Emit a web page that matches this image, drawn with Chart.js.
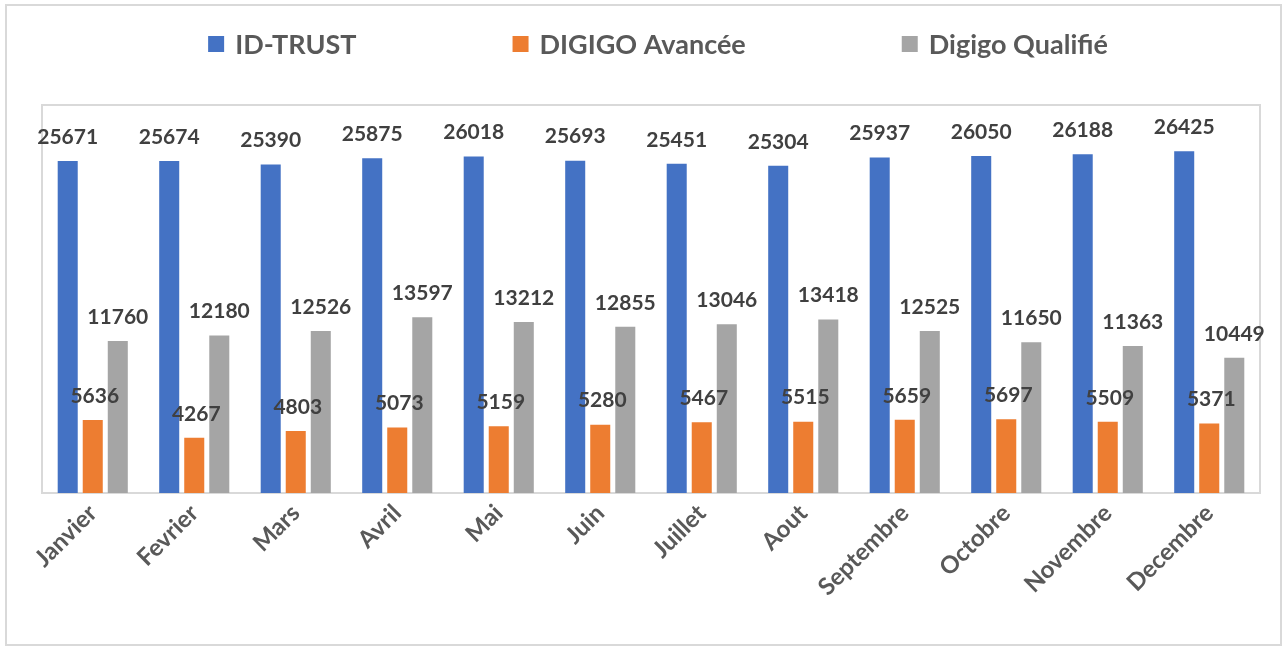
<!DOCTYPE html>
<html>
<head>
<meta charset="utf-8">
<script src="https://cdn.jsdelivr.net/npm/chart.js@4"></script>
<style>
  body { margin:0; background:#fff; }
  #wrap { width:1284px; height:648px; }
</style>
</head>
<body>
<div id="wrap"><canvas id="graf1" width="1284" height="648"></canvas></div>
<script>
const mois = ["Janvier","Fevrier","Mars","Avril","Mai","Juin","Juillet","Aout","Septembre","Octobre","Novembre","Decembre"];
const idTrust = [25671,25674,25390,25875,26018,25693,25451,25304,25937,26050,26188,26425];
const digigoAvancee = [5636,4267,4803,5073,5159,5280,5467,5515,5659,5697,5509,5371];
const digigoQualifie = [11760,12180,12526,13597,13212,12855,13046,13418,12525,11650,11363,10449];

const police = "Lato, 'Open Sans', sans-serif";

// cadre exterieur + cadre de la zone de tracé
const cadres = {
  id: "cadres",
  beforeDraw(chart) {
    const ctx = chart.ctx, a = chart.chartArea;
    ctx.save();
    ctx.fillStyle = "#fff";
    ctx.fillRect(0, 0, chart.width, chart.height);
    ctx.strokeStyle = "#d9d9d9";
    ctx.lineWidth = 2;
    ctx.strokeRect(6, 5, chart.width - 9, chart.height - 8);
    ctx.strokeRect(a.left, a.top, a.right - a.left, a.bottom - a.top);
    ctx.restore();
  }
};

// valeurs au-dessus des barres
const etiquettes = {
  id: "etiquettes",
  afterDatasetsDraw(chart) {
    const ctx = chart.ctx;
    ctx.save();
    ctx.font = "bold 21px " + police;
    ctx.fillStyle = "#404040";
    ctx.textAlign = "center";
    ctx.textBaseline = "middle";
    chart.data.datasets.forEach((ds, i) => {
      chart.getDatasetMeta(i).data.forEach((bar, j) => {
        ctx.fillText(ds.data[j], bar.x + (i == 1 ? 2 : 0), bar.y - 24);
      });
    });
    ctx.restore();
  }
};

// légende espacée comme dans Excel
const legende = {
  id: "legende",
  afterDraw(chart) {
    const ctx = chart.ctx;
    const gap = 156, box = 16;
    ctx.save();
    ctx.font = "bold 27px " + police;
    ctx.textBaseline = "middle";
    const items = chart.data.datasets.map(d => ({ t: d.label, c: d.backgroundColor, w: box + 11 + ctx.measureText(d.label).width }));
    const total = items.reduce((s, it) => s + it.w, 0) + gap * (items.length - 1);
    let x = 658 - total / 2;
    const y = 44;
    items.forEach(it => {
      ctx.fillStyle = it.c;
      ctx.fillRect(x, y - box / 2, box, box);
      ctx.fillStyle = "#595959";
      ctx.fillText(it.t, x + box + 11, y + 1);
      x += it.w + gap;
    });
    ctx.restore();
  }
};

new Chart(document.getElementById("graf1"), {
  type: "bar",
  data: {
    labels: mois,
    datasets: [
      { label: "ID-TRUST", data: idTrust, backgroundColor: "#4472C4" },
      { label: "DIGIGO Avancée", data: digigoAvancee, backgroundColor: "#ED7D31" },
      { label: "Digigo Qualifié", data: digigoQualifie, backgroundColor: "#A5A5A5" }
    ]
  },
  options: {
    responsive: false,
    animation: false,
    categoryPercentage: 0.74,
    barPercentage: 0.8,
    layout: { padding: { left: 42, right: 24, top: 105, bottom: 10 } },
    plugins: { legend: { display: false }, tooltip: { enabled: false } },
    scales: {
      x: {
        grid: { display: false, drawTicks: false },
        border: { color: "#d9d9d9", width: 2 },
        ticks: {
          autoSkip: false, minRotation: 45, maxRotation: 45,
          color: "#595959", font: { family: police, size: 24, weight: "bold" }, padding: 6
        },
        afterFit(scale) { scale.height = 145; }
      },
      y: { display: false, min: 0, max: 30000 }
    }
  },
  plugins: [cadres, etiquettes, legende]
});
</script>
</body>
</html>
